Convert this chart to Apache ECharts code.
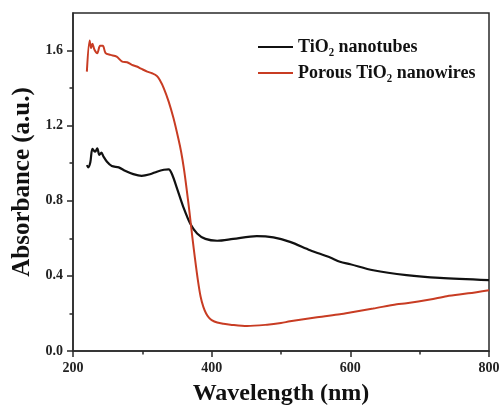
<!DOCTYPE html>
<html>
<head>
<meta charset="utf-8">
<script src="https://cdn.jsdelivr.net/npm/echarts@6/dist/echarts.min.js"></script>
<style>
  html, body { margin: 0; padding: 0; background: #fff; }
  #chart { width: 501px; height: 405px; }
</style>
</head>
<body>
<div id="chart"></div>
<script>
// TiO2 nanotubes (black)
const tubesWavelength = [220, 222, 225, 228, 232, 235, 238, 241, 244, 249, 256, 266, 275, 287, 299, 311, 321, 331, 338, 343, 350, 359, 369, 379, 391, 408, 431, 465, 489, 513, 542, 571, 585, 600, 633, 681, 729, 800];
const tubesAbsorbance = [0.990, 0.978, 1.005, 1.076, 1.061, 1.079, 1.044, 1.056, 1.035, 1.008, 0.985, 0.978, 0.960, 0.942, 0.933, 0.941, 0.955, 0.965, 0.967, 0.940, 0.866, 0.768, 0.679, 0.626, 0.597, 0.587, 0.597, 0.612, 0.605, 0.581, 0.537, 0.498, 0.475, 0.462, 0.430, 0.404, 0.389, 0.377];

// Porous TiO2 nanowires (red)
const wiresWavelength = [220, 224, 226, 228, 231, 235, 239, 243, 247, 254, 263, 271, 278, 285, 292, 299, 307, 314, 321, 325, 331, 338, 345, 352, 356, 360, 364, 368, 372, 376, 380, 384, 388, 392, 396, 400, 408, 417, 427, 451, 480, 500, 513, 552, 585, 600, 633, 667, 681, 715, 739, 770, 800];
const wiresAbsorbance = [1.488, 1.653, 1.613, 1.636, 1.604, 1.586, 1.625, 1.625, 1.586, 1.577, 1.568, 1.541, 1.538, 1.524, 1.515, 1.502, 1.488, 1.479, 1.465, 1.444, 1.399, 1.328, 1.239, 1.130, 1.060, 0.970, 0.860, 0.740, 0.610, 0.490, 0.380, 0.290, 0.235, 0.200, 0.178, 0.165, 0.152, 0.145, 0.140, 0.133, 0.140, 0.149, 0.158, 0.180, 0.196, 0.205, 0.226, 0.249, 0.254, 0.274, 0.292, 0.307, 0.324];

const seriesNames = ["TiO₂ nanotubes", "Porous TiO₂ nanowires"];
const xTicks = [200, 400, 600, 800];
const yTicks = [0.0, 0.4, 0.8, 1.2, 1.6];

const serif = "'Liberation Serif', 'Times New Roman', serif";
const axisColor = "#2a2a2a";

function pairs(xs, ys) {
  return xs.map((x, i) => [x, ys[i]]);
}

let myChart = echarts.init(document.getElementById("chart"));
myChart.setOption({
  animation: false,
  backgroundColor: "#fff",
  grid: [
    { left: 73, right: 12, top: 13, bottom: 54, outerBoundsMode: "none", show: true, borderColor: axisColor, borderWidth: 1.5, backgroundColor: "transparent" },
    // tick grid: same horizontal span, top at 1.6 so 0..1.6 maps onto the main grid
    { left: 73, right: 12, top: 50.5, bottom: 54, outerBoundsMode: "none" }
  ],
  legend: {
    data: seriesNames,
    orient: "vertical",
    left: 258,
    top: 38,
    padding: 0,
    icon: "rect",
    itemWidth: 35,
    itemHeight: 2,
    itemGap: 8,
    textStyle: { fontFamily: serif, fontWeight: "bold", fontSize: 18, color: "#111" }
  },
  xAxis: [
    {
      type: "value",
      gridIndex: 0,
      min: xTicks[0],
      max: xTicks[xTicks.length - 1],
      interval: 200,
      name: "Wavelength (nm)",
      nameLocation: "middle",
      nameGap: 31,
      nameTextStyle: { fontFamily: serif, fontWeight: "bold", fontSize: 24, color: "#111" },
      axisLine: { lineStyle: { color: axisColor, width: 1.5 } },
      axisTick: { inside: false, length: 6, lineStyle: { color: axisColor, width: 1.5 } },
      minorTick: { show: true, splitNumber: 2, length: 3.5, lineStyle: { color: axisColor, width: 1.5 } },
      axisLabel: { margin: 10, fontFamily: serif, fontWeight: "bold", fontSize: 14, color: "#222" },
      splitLine: { show: false }
    },
    { type: "value", gridIndex: 1, min: 200, max: 800, show: false }
  ],
  yAxis: [
    {
      type: "value",
      gridIndex: 0,
      min: 0,
      max: 1.8,
      name: "Absorbance (a.u.)",
      nameLocation: "middle",
      nameGap: 38,
      nameTextStyle: { fontFamily: serif, fontWeight: "bold", fontSize: 25, color: "#111" },
      axisLine: { show: true, lineStyle: { color: axisColor, width: 1.5 } },
      axisTick: { show: false },
      axisLabel: { show: false },
      splitLine: { show: false }
    },
    {
      type: "value",
      gridIndex: 1,
      min: yTicks[0],
      max: yTicks[yTicks.length - 1],
      interval: 0.4,
      axisLine: { show: false },
      axisTick: { inside: false, length: 6, lineStyle: { color: axisColor, width: 1.5 } },
      minorTick: { show: true, splitNumber: 2, length: 3.5, lineStyle: { color: axisColor, width: 1.5 } },
      axisLabel: {
        margin: 10,
        fontFamily: serif,
        fontWeight: "bold",
        fontSize: 14,
        color: "#222",
        formatter: (v) => v.toFixed(1)
      },
      splitLine: { show: false }
    }
  ],
  series: [
    {
      name: seriesNames[0],
      type: "line",
      xAxisIndex: 0,
      yAxisIndex: 0,
      data: pairs(tubesWavelength, tubesAbsorbance),
      showSymbol: false,
      symbol: "none",
      smooth: 0.3,
      color: "#111",
      lineStyle: { color: "#111", width: 2.2 }
    },
    {
      name: seriesNames[1],
      type: "line",
      xAxisIndex: 0,
      yAxisIndex: 0,
      data: pairs(wiresWavelength, wiresAbsorbance),
      showSymbol: false,
      symbol: "none",
      smooth: 0.3,
      color: "#c83c23",
      lineStyle: { color: "#c83c23", width: 2 }
    }
  ]
});
</script>
</body>
</html>
